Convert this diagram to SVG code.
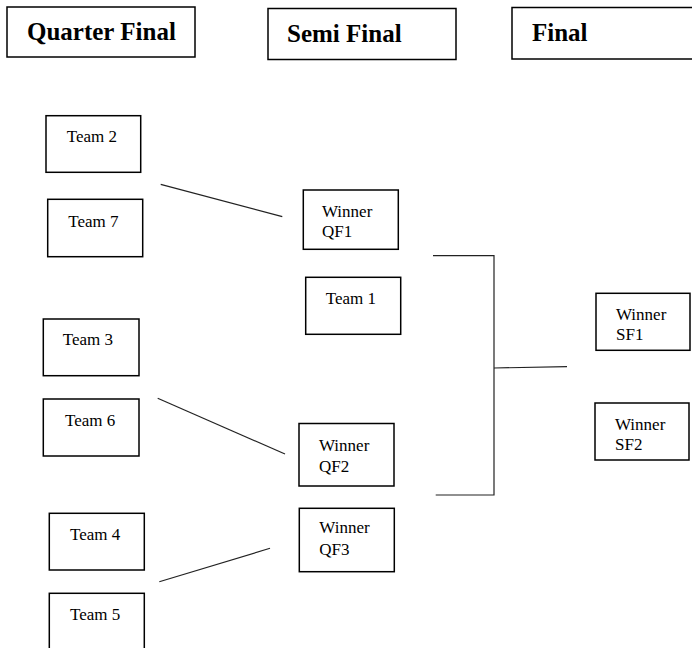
<svg xmlns="http://www.w3.org/2000/svg" width="692" height="648" viewBox="0 0 692 648">
<style>
.box{fill:#fff;stroke:#000;stroke-width:1.5}
.hd{font-family:"Liberation Serif",serif;font-weight:bold;font-size:25px;fill:#000}
.lb{font-family:"Liberation Serif",serif;font-size:17px;fill:#000}
.ln{fill:none;stroke:#222;stroke-width:1.2}
</style>
<rect width="692" height="648" fill="#fff"/>
<g id="hdr-qf"><rect class="box" x="7" y="7" width="188" height="50"/><text class="hd" x="27" y="40">Quarter Final</text></g>
<g id="hdr-sf"><rect class="box" x="268" y="8.5" width="188" height="51"/><text class="hd" x="287" y="41.5">Semi Final</text></g>
<g id="hdr-f"><rect class="box" x="512" y="7.5" width="185" height="51.5"/><text class="hd" x="532" y="40.5">Final</text></g>
<g id="connectors">
<line class="ln" x1="160.7" y1="184.3" x2="282.3" y2="216.7"/>
<line class="ln" x1="157.7" y1="398.3" x2="285" y2="454"/>
<line class="ln" x1="159.3" y1="581.7" x2="270" y2="548.3"/>
<polyline class="ln" points="433,255.7 494,255.7 494,495 435.7,495"/>
<line class="ln" x1="494" y1="368" x2="567" y2="366.7"/>
</g>
<g id="team2"><rect class="box" x="46" y="115.7" width="94.7" height="56.6"/><text class="lb" x="66.7" y="141.7">Team 2</text></g>
<g id="team7"><rect class="box" x="47.7" y="199.3" width="95" height="57.4"/><text class="lb" x="68.3" y="227.3">Team 7</text></g>
<g id="team3"><rect class="box" x="43.3" y="319" width="95.7" height="56.7"/><text class="lb" x="62.7" y="345">Team 3</text></g>
<g id="team6"><rect class="box" x="43.3" y="399" width="95.7" height="57"/><text class="lb" x="65" y="426">Team 6</text></g>
<g id="team4"><rect class="box" x="49.3" y="513.3" width="95" height="56.7"/><text class="lb" x="70" y="540">Team 4</text></g>
<g id="team5"><rect class="box" x="49.3" y="593.3" width="95" height="60"/><text class="lb" x="70" y="620">Team 5</text></g>
<g id="wqf1"><rect class="box" x="303.3" y="190" width="95" height="59.3"/><text class="lb" x="322"><tspan x="322" y="216.7">Winner</tspan><tspan x="322" y="236.7">QF1</tspan></text></g>
<g id="team1"><rect class="box" x="305.7" y="277.3" width="95" height="57"/><text class="lb" x="325.7" y="304">Team 1</text></g>
<g id="wqf2"><rect class="box" x="299" y="423.5" width="95" height="62.5"/><text class="lb"><tspan x="319" y="450.7">Winner</tspan><tspan x="319" y="471.7">QF2</tspan></text></g>
<g id="wqf3"><rect class="box" x="299.3" y="508.3" width="95" height="63.4"/><text class="lb"><tspan x="319.3" y="533.3">Winner</tspan><tspan x="319.3" y="555">QF3</tspan></text></g>
<g id="wsf1"><rect class="box" x="596" y="293.3" width="94" height="57"/><text class="lb"><tspan x="616" y="320">Winner</tspan><tspan x="616" y="340">SF1</tspan></text></g>
<g id="wsf2"><rect class="box" x="595" y="403" width="94" height="57"/><text class="lb"><tspan x="615" y="430">Winner</tspan><tspan x="615" y="450">SF2</tspan></text></g>
</svg>
